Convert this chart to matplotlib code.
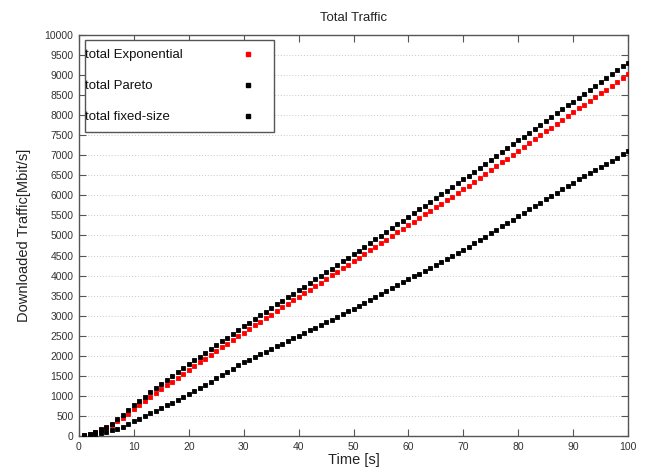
import matplotlib
matplotlib.use("Agg")
import matplotlib.pyplot as plt
from matplotlib.patches import Rectangle

plt.rcParams['font.family'] = ['Liberation Sans', 'DejaVu Sans']

time_s = list(range(1, 101))

total_exponential = [
    15, 45, 90, 145, 200, 275, 375, 460, 560, 667,
    770, 870, 970, 1065, 1160, 1260, 1355, 1450, 1550, 1650,
    1745, 1835, 1930, 2020, 2115, 2210, 2300, 2395, 2485, 2580,
    2670, 2760, 2845, 2935, 3025, 3115, 3205, 3290, 3380, 3470,
    3560, 3650, 3735, 3825, 3915, 4005, 4095, 4180, 4270, 4360,
    4450, 4540, 4630, 4720, 4805, 4895, 4985, 5075, 5165, 5255,
    5345, 5435, 5525, 5615, 5700, 5790, 5880, 5970, 6060, 6150,
    6245, 6345, 6440, 6535, 6630, 6730, 6825, 6920, 7015, 7110,
    7210, 7305, 7400, 7500, 7595, 7690, 7785, 7880, 7980, 8075,
    8170, 8265, 8360, 8455, 8550, 8640, 8735, 8830, 8925, 9020,
]

total_pareto = [
    20, 55, 105, 165, 230, 310, 420, 530, 650, 770,
    870, 980, 1090, 1190, 1290, 1390, 1490, 1590, 1690, 1790,
    1885, 1980, 2075, 2170, 2265, 2360, 2455, 2550, 2645, 2740,
    2830, 2920, 3010, 3100, 3190, 3280, 3370, 3460, 3545, 3635,
    3725, 3815, 3905, 3995, 4085, 4175, 4265, 4355, 4440, 4530,
    4625, 4715, 4810, 4905, 4995, 5090, 5185, 5280, 5370, 5465,
    5560, 5650, 5745, 5840, 5935, 6025, 6120, 6215, 6305, 6400,
    6495, 6595, 6690, 6790, 6885, 6980, 7080, 7175, 7275, 7370,
    7465, 7565, 7660, 7760, 7855, 7950, 8050, 8145, 8245, 8340,
    8435, 8535, 8630, 8730, 8825, 8920, 9020, 9115, 9215, 9310,
]

total_fixed = [
    10, 25, 45, 70, 100, 140, 185, 235, 300, 370,
    430, 500, 565, 630, 700, 765, 830, 900, 965, 1035,
    1115, 1195, 1275, 1355, 1435, 1520, 1600, 1680, 1760, 1840,
    1905, 1975, 2040, 2105, 2175, 2240, 2305, 2370, 2440, 2505,
    2570, 2640, 2705, 2770, 2840, 2905, 2970, 3040, 3105, 3170,
    3245, 3315, 3390, 3465, 3540, 3610, 3685, 3760, 3830, 3905,
    3980, 4050, 4125, 4200, 4270, 4345, 4420, 4495, 4565, 4640,
    4725, 4810, 4890, 4975, 5060, 5145, 5230, 5310, 5395, 5480,
    5565, 5650, 5730, 5815, 5900, 5985, 6070, 6150, 6235, 6320,
    6400, 6475, 6555, 6630, 6710, 6790, 6865, 6945, 7020, 7100,
]

series_labels = ["total Exponential", "total Pareto", "total fixed-size"]
series_colors = ["#ff0000", "#000000", "#000000"]

x_ticks = list(range(0, 101, 10))
y_ticks = list(range(0, 10001, 500))

fig = plt.figure(figsize=(6.45, 4.71), dpi=100)
ax = fig.add_axes([79/645, 1-436/471, (628-79)/645, (436-35)/471])

ms = 3.5
for vals, col in zip([total_exponential, total_pareto, total_fixed], series_colors):
    ax.plot(time_s, vals, linestyle='none', marker='s', markersize=ms,
            markerfacecolor=col, markeredgecolor=col, markeredgewidth=0.6, zorder=3)

ax.set_xlim(0, 100)
ax.set_ylim(0, 10000)
ax.set_xticks(x_ticks)
ax.set_yticks(y_ticks)
ax.tick_params(direction='in', top=True, right=True, labelsize=7.5,
               labelcolor='#333333', color='#555555', length=5, width=0.8, pad=4)
ax.yaxis.grid(True, linestyle=(0, (1.0, 2.0)), color='#c8c8c8', linewidth=0.7)
ax.xaxis.grid(False)
for sp in ax.spines.values():
    sp.set_color('#555555')
    sp.set_linewidth(1.0)

ax.set_title("Total Traffic", fontsize=9.5, pad=10, color='#222222')
ax.set_xlabel("Time [s]", fontsize=10.5, labelpad=1, color='#222222')
ax.set_ylabel("Downloaded Traffic[Mbit/s]", fontsize=10.5, labelpad=10, color='#222222')

# gnuplot-style legend box
def ax_x(px):
    return (px - 79) / (628 - 79)

def ax_y(py):
    return (436 - py) / (436 - 35)

ax.add_patch(Rectangle((ax_x(85), ax_y(132)), ax_x(274) - ax_x(85), ax_y(40) - ax_y(132),
                       transform=ax.transAxes, facecolor='white', edgecolor='#555555',
                       linewidth=1.0, zorder=5))
rows_py = [55, 86, 117]
for lab, col, py in zip(series_labels, series_colors, rows_py):
    ax.text(ax_x(85), ax_y(py), lab, transform=ax.transAxes, fontsize=9.5,
            ha='left', va='center', color='#111111', zorder=6)
    ax.plot([ax_x(248)], [ax_y(py - 1)], transform=ax.transAxes, marker='s',
            markersize=ms, color=col, linestyle='none', zorder=6, clip_on=False)

fig.savefig("out.png", dpi=100)
